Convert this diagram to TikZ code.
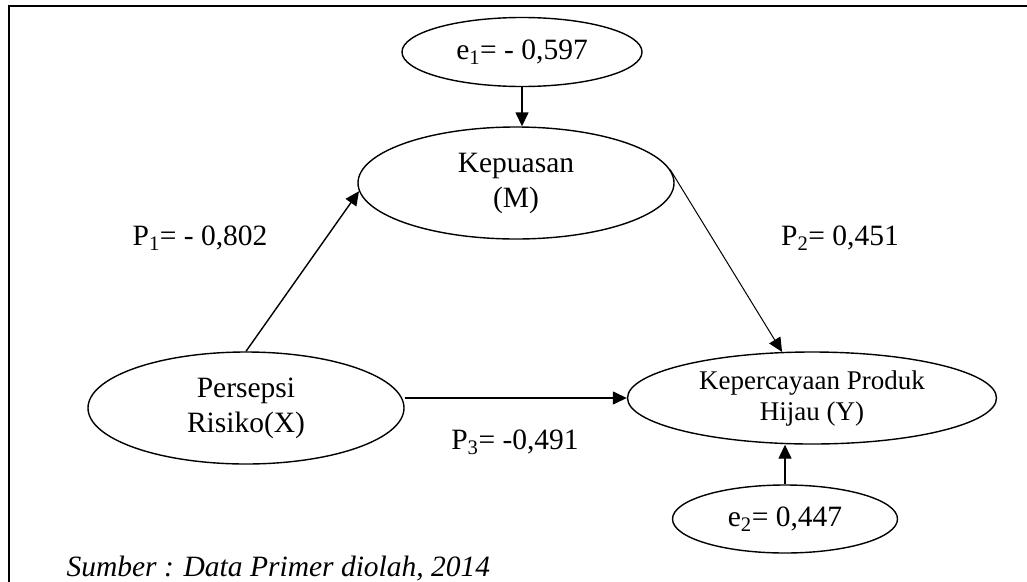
\documentclass[tikz,border=0pt]{standalone}
\usepackage{fontspec}
\setmainfont{Liberation Serif}
\usetikzlibrary{shapes.geometric, arrows.meta}

\begin{document}
\begin{tikzpicture}[x=1pt, y=-1pt, >={Triangle[length=14pt, width=13pt]},
    var/.style={ellipse, draw, line width=1.4pt, inner sep=0pt, align=center,
        font=\fontsize{29.5}{35}\selectfont},
    lbl/.style={font=\fontsize{29.5}{35}\selectfont}]
    \clip (0,0) rectangle (1027,581);
    \draw[line width=1.5pt] (9,6) rectangle (1080,640);

    % 1. Variabel
    \node[var, minimum width=240pt, minimum height=69pt] (e1) at (522,52) {e\textsubscript{1}= - 0,597};
    \node[var, minimum width=316pt, minimum height=112pt] (M) at (516,183) {Kepuasan\\(M)};
    \node[var, minimum width=316pt, minimum height=112pt] (X) at (246,408) {Persepsi\\Risiko(X)};
    \node[var, minimum width=369pt, minimum height=92pt, font=\fontsize{27}{31}\selectfont] (Y) at (812,398) {Kepercayaan Produk\\Hijau (Y)};
    \node[var, minimum width=225pt, minimum height=68pt] (e2) at (785,519) {e\textsubscript{2}= 0,447};

    % 2. Jalur
    \draw[->, line width=1.4pt] (e1) -- (e1 |- M.north);
    \draw[->, line width=1.4pt] (e2) -- (e2 |- Y.south);
    \draw[->, line width=1.4pt] (X.north) -- (M.183);
    \draw[->, line width=1pt] (M.5) -- (Y.123);
    \draw[->, line width=1.4pt] (X.east |- Y.west) -- (Y.west);

    % 3. Koefisien
    \node[lbl] (p1) at (200,238) {P\textsubscript{1}= - 0,802};
    \node[lbl] (p2) at (840,238) {P\textsubscript{2}= 0,451};
    \node[lbl] (p3) at (515,442) {P\textsubscript{3}= -0,491};
    \node[lbl, anchor=base west] (sumber) at (63,576) {\itshape Sumber : Data Primer diolah, 2014};
\end{tikzpicture}
\end{document}
